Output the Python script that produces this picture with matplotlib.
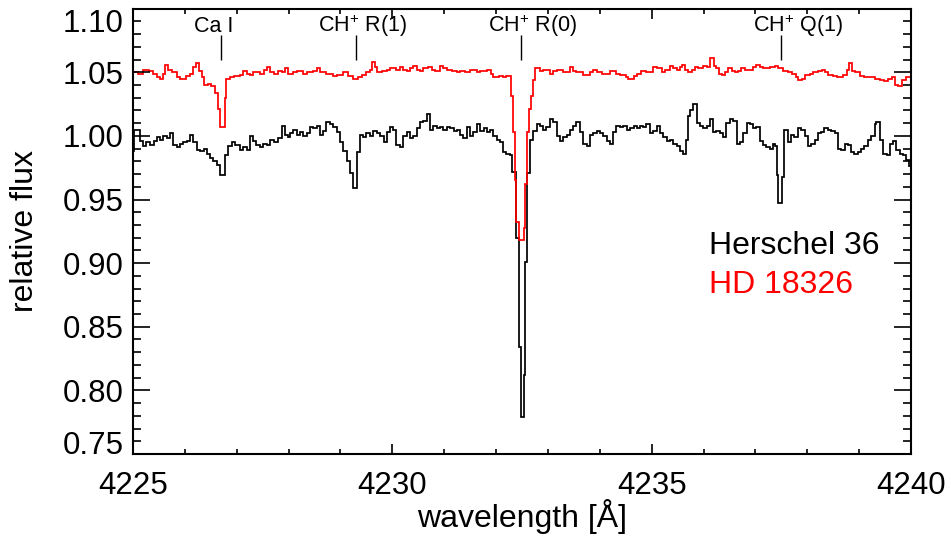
import matplotlib
matplotlib.use("Agg")
import matplotlib.pyplot as plt
from matplotlib.ticker import MultipleLocator, FormatStrFormatter

plt.rcParams['font.family'] = ['Liberation Sans', 'DejaVu Sans']
plt.rcParams['mathtext.fontset'] = 'custom'
plt.rcParams['mathtext.rm'] = 'Liberation Sans'
plt.rcParams['mathtext.it'] = 'Liberation Sans:italic'
plt.rcParams['mathtext.bf'] = 'Liberation Sans:bold'

# ---------------- data ----------------
red_wl = [4225.00, 4225.10, 4225.20, 4225.30, 4225.39, 4225.46, 4225.52, 4225.58, 4225.62, 4225.68,
          4225.75, 4225.85, 4225.91, 4226.02, 4226.10, 4226.16, 4226.21, 4226.27, 4226.33, 4226.36,
          4226.44, 4226.51, 4226.58, 4226.63, 4226.68, 4226.77, 4226.80, 4226.87, 4226.95, 4227.06,
          4227.13, 4227.20, 4227.26, 4227.32, 4227.45, 4227.52, 4227.58, 4227.64, 4227.71, 4227.80,
          4227.87, 4227.93, 4227.99, 4228.09, 4228.16, 4228.28, 4228.35, 4228.48, 4228.55, 4228.61,
          4228.73, 4228.86, 4228.93, 4229.05, 4229.15, 4229.25, 4229.33, 4229.41, 4229.50, 4229.57,
          4229.61, 4229.66, 4229.71, 4229.80, 4229.89, 4229.95, 4230.08, 4230.15, 4230.21, 4230.28,
          4230.34, 4230.40, 4230.47, 4230.53, 4230.60, 4230.69, 4230.76, 4230.82, 4230.92, 4230.98,
          4231.05, 4231.15, 4231.24, 4231.30, 4231.40, 4231.50, 4231.63, 4231.69, 4231.82, 4231.90,
          4231.95, 4232.05, 4232.14, 4232.20, 4232.28, 4232.33, 4232.36, 4232.38, 4232.45, 4232.53,
          4232.56, 4232.60, 4232.64, 4232.67, 4232.71, 4232.75, 4232.85, 4232.91, 4233.04, 4233.10,
          4233.17, 4233.30, 4233.42, 4233.49, 4233.55, 4233.68, 4233.81, 4233.87, 4233.94, 4234.04,
          4234.20, 4234.32, 4234.39, 4234.50, 4234.55, 4234.65, 4234.71, 4234.80, 4234.90, 4235.03,
          4235.10, 4235.19, 4235.25, 4235.35, 4235.42, 4235.48, 4235.55, 4235.58, 4235.64, 4235.71,
          4235.77, 4235.83, 4235.90, 4235.99, 4236.06, 4236.12, 4236.20, 4236.24, 4236.30, 4236.35,
          4236.42, 4236.48, 4236.54, 4236.61, 4236.67, 4236.73, 4236.80, 4236.89, 4236.96, 4237.02,
          4237.09, 4237.15, 4237.28, 4237.38, 4237.44, 4237.54, 4237.62, 4237.70, 4237.78, 4237.83,
          4237.90, 4237.96, 4238.05, 4238.12, 4238.20, 4238.28, 4238.35, 4238.40, 4238.50, 4238.57,
          4238.68, 4238.76, 4238.80, 4238.86, 4238.92, 4239.02, 4239.10, 4239.21, 4239.30, 4239.40,
          4239.48, 4239.55, 4239.63, 4239.69, 4239.75, 4239.82, 4239.90]
red_flux = [1.050, 1.049, 1.052, 1.051, 1.049, 1.046, 1.045, 1.049, 1.056, 1.052,
            1.050, 1.046, 1.045, 1.047, 1.049, 1.054, 1.057, 1.051, 1.046, 1.040,
            1.041, 1.039, 1.034, 1.021, 1.007, 1.030, 1.045, 1.046, 1.047, 1.048,
            1.051, 1.049, 1.048, 1.050, 1.049, 1.052, 1.054, 1.050, 1.049, 1.051,
            1.050, 1.053, 1.049, 1.050, 1.051, 1.049, 1.050, 1.051, 1.053, 1.050,
            1.049, 1.047, 1.048, 1.050, 1.047, 1.045, 1.046, 1.048, 1.050, 1.052,
            1.058, 1.054, 1.050, 1.051, 1.052, 1.053, 1.052, 1.054, 1.052, 1.051,
            1.053, 1.055, 1.052, 1.051, 1.053, 1.054, 1.052, 1.051, 1.055, 1.053,
            1.052, 1.051, 1.050, 1.051, 1.050, 1.052, 1.050, 1.051, 1.052, 1.049,
            1.046, 1.047, 1.046, 1.047, 1.031, 1.003, 0.965, 0.932, 0.918, 0.928,
            0.962, 1.003, 1.021, 1.031, 1.044, 1.053, 1.051, 1.052, 1.049, 1.051,
            1.052, 1.050, 1.054, 1.051, 1.050, 1.048, 1.050, 1.052, 1.050, 1.049,
            1.051, 1.049, 1.048, 1.046, 1.045, 1.047, 1.049, 1.051, 1.050, 1.054,
            1.053, 1.050, 1.052, 1.055, 1.053, 1.052, 1.054, 1.056, 1.052, 1.050,
            1.052, 1.054, 1.053, 1.055, 1.054, 1.061, 1.055, 1.053, 1.049, 1.048,
            1.050, 1.053, 1.051, 1.050, 1.051, 1.053, 1.052, 1.052, 1.054, 1.056,
            1.054, 1.053, 1.054, 1.055, 1.053, 1.051, 1.050, 1.049, 1.046, 1.044,
            1.045, 1.048, 1.049, 1.050, 1.051, 1.052, 1.050, 1.048, 1.047, 1.046,
            1.048, 1.052, 1.057, 1.051, 1.050, 1.047, 1.046, 1.046, 1.045, 1.044,
            1.043, 1.045, 1.046, 1.040, 1.039, 1.044, 1.046]

black_wl = [4225.00, 4225.02, 4225.13, 4225.20, 4225.26, 4225.33, 4225.40, 4225.46, 4225.52, 4225.58,
            4225.65, 4225.71, 4225.78, 4225.85, 4225.91, 4225.97, 4226.04, 4226.10, 4226.16, 4226.23,
            4226.30, 4226.36, 4226.42, 4226.48, 4226.55, 4226.61, 4226.68, 4226.77, 4226.83, 4226.90,
            4226.96, 4227.06, 4227.13, 4227.19, 4227.26, 4227.32, 4227.38, 4227.45, 4227.51, 4227.58,
            4227.64, 4227.71, 4227.80, 4227.87, 4227.93, 4227.99, 4228.03, 4228.09, 4228.16, 4228.22,
            4228.28, 4228.35, 4228.41, 4228.48, 4228.55, 4228.61, 4228.67, 4228.73, 4228.80, 4228.86,
            4228.93, 4228.99, 4229.05, 4229.12, 4229.18, 4229.25, 4229.31, 4229.38, 4229.44, 4229.50,
            4229.57, 4229.63, 4229.70, 4229.76, 4229.83, 4229.89, 4229.95, 4230.02, 4230.08, 4230.15,
            4230.21, 4230.28, 4230.34, 4230.40, 4230.47, 4230.53, 4230.60, 4230.66, 4230.72, 4230.79,
            4230.86, 4230.92, 4230.98, 4231.05, 4231.11, 4231.18, 4231.24, 4231.30, 4231.37, 4231.43,
            4231.50, 4231.56, 4231.63, 4231.69, 4231.76, 4231.82, 4231.88, 4231.95, 4232.01, 4232.07,
            4232.14, 4232.20, 4232.26, 4232.31, 4232.38, 4232.45, 4232.49, 4232.53, 4232.56, 4232.60,
            4232.65, 4232.72, 4232.78, 4232.85, 4232.91, 4232.97, 4233.04, 4233.10, 4233.17, 4233.23,
            4233.30, 4233.36, 4233.42, 4233.49, 4233.55, 4233.62, 4233.68, 4233.75, 4233.81, 4233.87,
            4233.94, 4234.00, 4234.07, 4234.13, 4234.20, 4234.26, 4234.32, 4234.39, 4234.45, 4234.52,
            4234.58, 4234.65, 4234.71, 4234.77, 4234.84, 4234.90, 4234.97, 4235.03, 4235.10, 4235.16,
            4235.22, 4235.29, 4235.35, 4235.42, 4235.48, 4235.55, 4235.61, 4235.67, 4235.71, 4235.74,
            4235.80, 4235.87, 4235.93, 4235.99, 4236.06, 4236.12, 4236.19, 4236.25, 4236.32, 4236.38,
            4236.44, 4236.51, 4236.57, 4236.64, 4236.70, 4236.77, 4236.83, 4236.89, 4236.96, 4237.02,
            4237.09, 4237.15, 4237.21, 4237.28, 4237.34, 4237.38, 4237.41, 4237.44, 4237.52, 4237.56,
            4237.62, 4237.69, 4237.75, 4237.82, 4237.88, 4237.95, 4238.01, 4238.08, 4238.14, 4238.21,
            4238.27, 4238.33, 4238.40, 4238.46, 4238.53, 4238.59, 4238.66, 4238.72, 4238.78, 4238.85,
            4238.91, 4238.98, 4239.04, 4239.10, 4239.17, 4239.23, 4239.30, 4239.33, 4239.40, 4239.46,
            4239.53, 4239.59, 4239.65, 4239.72, 4239.78, 4239.85, 4239.91, 4239.97]
black_flux = [0.988, 1.005, 0.996, 0.992, 0.995, 0.993, 0.996, 0.999, 0.997, 1.000,
              0.998, 1.002, 0.993, 0.991, 0.994, 0.995, 0.996, 1.001, 0.995, 0.989,
              0.988, 0.990, 0.986, 0.983, 0.980, 0.977, 0.969, 0.985, 0.992, 0.995,
              0.993, 0.989, 0.991, 0.989, 1.000, 0.996, 0.993, 0.991, 0.994, 0.993,
              0.997, 0.995, 0.998, 1.008, 1.001, 0.999, 1.002, 1.005, 1.001, 1.003,
              1.000, 1.002, 1.007, 1.006, 1.008, 1.001, 1.004, 1.011, 1.009, 1.007,
              1.003, 0.995, 0.988, 0.980, 0.971, 0.959, 0.987, 1.001, 0.999, 1.002,
              1.000, 1.004, 1.002, 1.000, 0.995, 1.003, 1.007, 1.005, 0.993, 0.991,
              1.000, 1.003, 0.998, 1.000, 1.006, 1.011, 1.012, 1.017, 1.005, 1.008,
              1.006, 1.007, 1.005, 1.007, 1.006, 1.004, 1.005, 1.001, 0.998, 1.007,
              1.000, 1.003, 1.009, 1.004, 1.006, 1.003, 1.005, 1.000, 0.997, 0.995,
              0.987, 0.986, 0.985, 0.972, 0.920, 0.834, 0.779, 0.812, 0.901, 0.971,
              0.997, 1.004, 1.009, 1.008, 1.005, 1.007, 1.013, 1.011, 1.000, 0.996,
              0.999, 1.001, 1.005, 1.008, 1.011, 1.003, 0.994, 0.992, 1.001, 1.002,
              1.004, 1.002, 1.000, 0.996, 0.994, 1.003, 1.008, 1.007, 1.008, 1.005,
              1.006, 1.008, 1.006, 1.008, 1.007, 1.009, 1.002, 1.004, 1.008, 1.002,
              0.999, 0.996, 0.997, 0.994, 0.992, 0.988, 0.986, 0.997, 1.016, 1.020,
              1.025, 1.010, 1.008, 1.006, 1.008, 1.013, 1.003, 1.004, 1.002, 0.999,
              1.010, 1.013, 1.012, 0.994, 0.995, 1.002, 1.010, 1.009, 1.006, 1.007,
              0.996, 0.993, 0.991, 0.990, 0.994, 0.992, 0.969, 0.947, 0.968, 1.005,
              0.995, 1.001, 0.999, 1.006, 1.005, 1.000, 0.992, 0.994, 0.997, 1.002,
              1.003, 1.006, 1.005, 1.004, 1.002, 0.990, 0.989, 0.994, 0.993, 0.987,
              0.986, 0.987, 0.990, 0.992, 0.997, 1.000, 1.009, 1.011, 0.997, 0.986,
              0.985, 0.994, 0.996, 0.989, 0.986, 0.985, 0.981, 0.976]

wl_end = 4240.0

line_names = ["Ca I", "CH$^{+}$ R(1)", "CH$^{+}$ R(0)", "CH$^{+}$ Q(1)"]
line_wl = [4226.70, 4229.30, 4232.49, 4237.49]
line_label_wl = [4226.56, 4229.43, 4232.71, 4237.82]

series_names = ["Herschel 36", "HD 18326"]
series_colors = ["black", "red"]

xlim = (4225, 4240)
ylim = (0.75, 1.10)
xticks = [4225, 4230, 4235, 4240]
yticks = [0.75, 0.80, 0.85, 0.90, 0.95, 1.00, 1.05, 1.10]

# ---------------- figure ----------------
W, H = 951, 539
fig = plt.figure(figsize=(W / 100, H / 100), dpi=100)
ax = fig.add_axes([133 / W, (H - 454) / H, 778 / W, (454 - 8.7) / H])

ax.stairs(black_flux, black_wl + [wl_end], baseline=None, color=series_colors[0], lw=1.25)
ax.stairs(red_flux, red_wl + [wl_end], baseline=None, color=series_colors[1], lw=1.25)

ax.set_xlim(*xlim)
ax.set_ylim(*ylim)
ax.set_xticks(xticks)
ax.set_yticks(yticks)
ax.xaxis.set_minor_locator(MultipleLocator(1))
ax.yaxis.set_minor_locator(MultipleLocator(0.01))
ax.yaxis.set_major_formatter(FormatStrFormatter('%.2f'))

ax.tick_params(which='both', direction='in', top=True, right=True, width=1.2, colors='black')
ax.tick_params(axis='x', which='major', length=7, pad=12, labelsize=22.5)
ax.tick_params(axis='x', which='minor', length=3.5)
ax.tick_params(axis='y', which='major', length=12, pad=7, labelsize=22.5)
ax.tick_params(axis='y', which='minor', length=5.5)
for s in ax.spines.values():
    s.set_linewidth(1.5)

# edge y labels shifted inside, as in the reference
ylabels = ax.get_yticklabels()
ylabels[-1].set_verticalalignment('top')
ylabels[0].set_verticalalignment('baseline')

ax.set_xlabel("wavelength [Å]", fontsize=23)
ax.xaxis.set_label_coords(0.5, (454 - 517) / (454 - 8.7))
ax.xaxis.label.set_verticalalignment('center')
ax.set_ylabel("relative flux", fontsize=23)
ax.yaxis.set_label_coords((25 - 133) / 778, 0.5)
ax.yaxis.label.set_verticalalignment('center')

# line identifications
for name, wl, lwl in zip(line_names, line_wl, line_label_wl):
    ax.vlines(wl, 1.0598, 1.0794, color='black', lw=1.0)
    ax.text(lwl, 1.0815, name, ha='center', va='baseline', fontsize=15.5)

# legend-like labels
ax.text((709 - 133) / 778, (454 - 246) / (454 - 8.7), series_names[0], color=series_colors[0],
        transform=ax.transAxes, ha='left', va='center', fontsize=23)
ax.text((709 - 133) / 778, (454 - 285) / (454 - 8.7), series_names[1], color=series_colors[1],
        transform=ax.transAxes, ha='left', va='center', fontsize=23)

fig.savefig("out.png", dpi=100)
